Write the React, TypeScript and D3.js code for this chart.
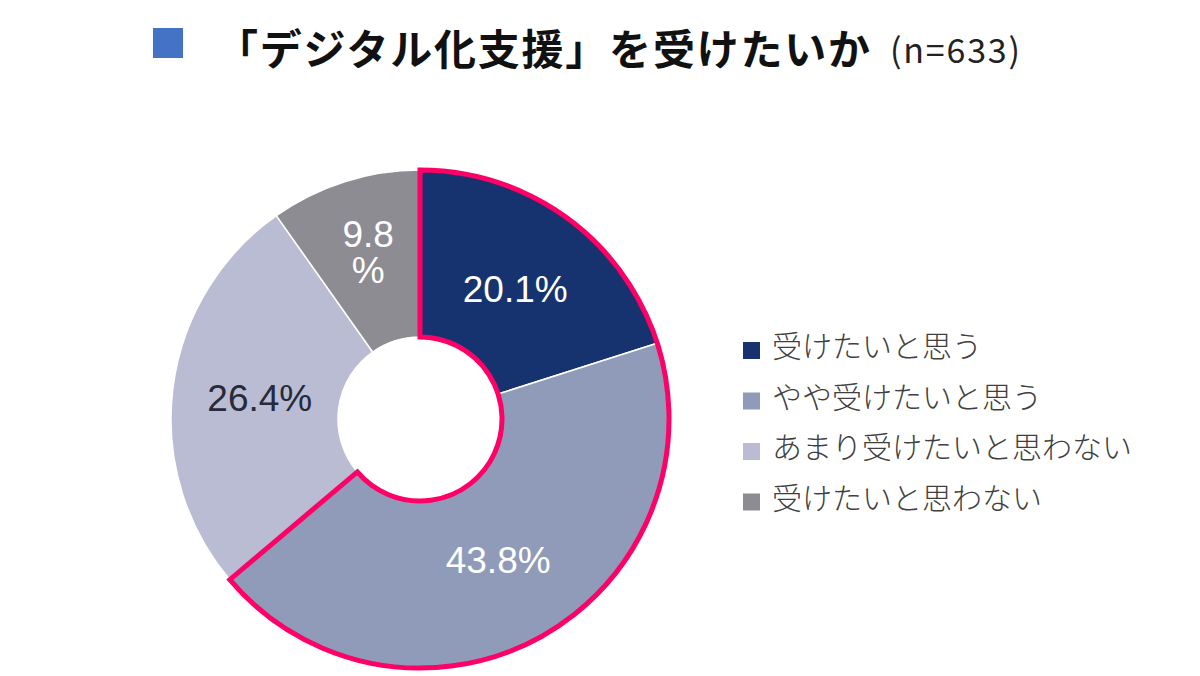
import React from "react";
import * as d3 from "d3";

const categories = ["受けたいと思う", "やや受けたいと思う", "あまり受けたいと思わない", "受けたいと思わない"];
const values = [20.1, 43.8, 26.4, 9.8];
const labels = ["20.1%", "43.8%", "26.4%", "9.8\n%"];
const colors = ["#17336f", "#8f9bb8", "#b9bcd3", "#8d8c93"];
const labelColors = ["#ffffff", "#ffffff", "#262a3a", "#ffffff"];
const highlighted = [0, 1];

const W = 1200;
const H = 676;
const cx = 420;
const cy = 419;
const outerR = 249;
const innerR = 82;

export default function App() {
  const pie = d3.pie<number>().sort(null).startAngle(0).endAngle(2 * Math.PI);
  const arcs = pie(values);
  const arc = d3.arc<d3.PieArcDatum<number>>().innerRadius(innerR).outerRadius(outerR);
  const labelArc = d3.arc<d3.PieArcDatum<number>>().innerRadius(innerR).outerRadius(outerR - 8);
  const hlStart = arcs[highlighted[0]].startAngle;
  const hlEnd = arcs[highlighted[highlighted.length - 1]].endAngle;
  const hlPath = d3.arc()({ innerRadius: innerR, outerRadius: outerR, startAngle: hlStart, endAngle: hlEnd }) || "";

  const legendX = 743;
  const legendY0 = 342;
  const legendStep = 50.5;

  return (
    <svg width={W} height={H} style={{ position: "absolute", left: 0, top: 0, background: "#fff" }}>
      <rect x={0} y={0} width={W} height={H} fill="#ffffff" />
      {/* title */}
      <rect x={153} y={28} width={30} height={30} fill="#4472c4" />
      <text
        x={216}
        y={46}
        dominantBaseline="central"
        fontFamily="'Noto Sans CJK JP', sans-serif"
        fontWeight={700}
        fontSize={42}
        fill="#111"
        textLength={654}
        lengthAdjust="spacing"
      >
        「デジタル化支援」を受けたいか
      </text>
      <text
        x={890}
        y={48}
        dominantBaseline="central"
        fontFamily="'Noto Sans CJK JP', sans-serif"
        fontSize={34}
        fill="#222"
        textLength={130}
        lengthAdjust="spacing"
      >
        (n=633)
      </text>

      {/* donut */}
      <g transform={`translate(${cx},${cy})`}>
        {arcs.map((a, i) => (
          <path key={i} d={arc(a) || ""} fill={colors[i]} stroke="#ffffff" strokeWidth={1.5} />
        ))}
        <path d={hlPath} fill="none" stroke="#ff0066" strokeWidth={5} strokeLinejoin="miter" />
        {arcs.map((a, i) => {
          const [lx, ly] = labelArc.centroid(a);
          const lines = labels[i].split("\n");
          const n = lines.length;
          const lh = 36;
          return (
            <text
              key={i}
              x={lx}
              y={ly}
              textAnchor="middle"
              fontFamily="'Liberation Sans', Arial, sans-serif"
              fontSize={37}
              fill={labelColors[i]}
            >
              {lines.map((l, j) => (
                <tspan key={j} x={lx - (n - 1) * 3} y={ly + (j - (n - 1)) * lh + (n - 1) * 5} dy="0.35em">
                  {l}
                </tspan>
              ))}
            </text>
          );
        })}
      </g>

      {/* legend */}
      {categories.map((c, i) => (
        <g key={i} transform={`translate(${legendX},${legendY0 + i * legendStep})`}>
          <rect x={0} y={0} width={17} height={17} fill={colors[i]} />
          <text
            x={29}
            y={2}
            dominantBaseline="central"
            fontFamily="'Noto Sans CJK JP', sans-serif"
            fontSize={30}
            fontWeight={300}
            fill="#404040"
          >
            {c}
          </text>
        </g>
      ))}
    </svg>
  );
}
